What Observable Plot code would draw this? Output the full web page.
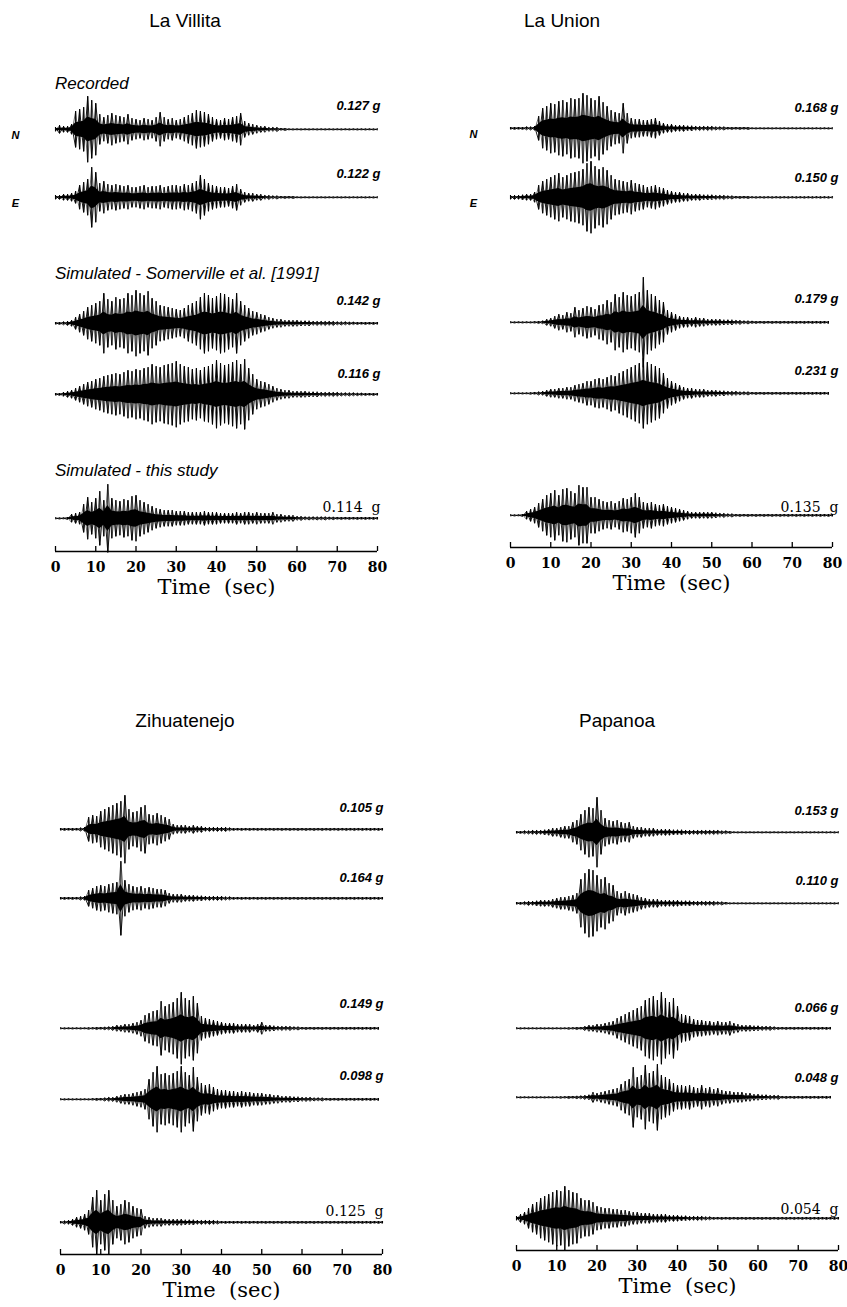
<!DOCTYPE html>
<html><head><meta charset="utf-8">
<script src="https://cdn.jsdelivr.net/npm/d3@7"></script>
<script src="https://cdn.jsdelivr.net/npm/@observablehq/plot@0.6"></script>
<style>
body{margin:0;background:#fff;}
#fig{position:relative;width:847px;height:1307px;overflow:hidden;font-family:"Liberation Sans",Arial,sans-serif;color:#000;}
.abs{position:absolute;white-space:pre;line-height:1;}
.title{font-size:19px;transform:translate(-50%,-50%);}
.group{font-style:italic;font-size:17px;transform:translateY(-50%);}
</style></head><body><div id="fig"></div>
<script>
// ---------------- data ----------------
const stations = ["La Villita", "La Union", "Zihuatenejo", "Papanoa"];
const groupLabels = ["Recorded", "Simulated - Somerville et al. [1991]", "Simulated - this study"];
const components = ["N", "E"];
const timeTicks = [0, 10, 20, 30, 40, 50, 60, 70, 80];
const xLabel = "Time\u00a0\u00a0(sec)";

const laVillitaPeaks = ["0.127 g", "0.122 g", "0.142 g", "0.116 g", "0.114\u00a0\u00a0g"];
const laUnionPeaks = ["0.168 g", "0.150 g", "0.179 g", "0.231 g", "0.135\u00a0\u00a0g"];
const zihuaPeaks = ["0.105 g", "0.164 g", "0.149 g", "0.098 g", "0.125\u00a0\u00a0g"];
const papanoaPeaks = ["0.153 g", "0.110 g", "0.066 g", "0.048 g", "0.054\u00a0\u00a0g"];

// envelope amplitude of each trace, one value per second from t = 0
const laVillitaN = [2,4,3,3,5,18,20,22,33,29, 26,15,12,14,16,14,13,12,15,11, 10,9,11,10,9,12,17,12,10,11, 9,10,12,14,16,19,18,17,15,12, 10,9,11,10,12,13,16,8,6,5, 4,3,3,2,2,2,1,1,.5,.5, .5,.5,.5,.5,.5,.5,.5,.5,.5,.5, .5,.5,.5,.5,.5,.5,.5,.5,.5,.5,.5];
const laVillitaE = [2,2,3,3,4,6,12,15,18,30, 25,14,16,13,12,13,12,11,12,10, 10,11,12,10,11,11,12,10,11,12, 12,11,13,12,14,16,22,18,14,12, 11,10,10,9,11,13,8,5,4,4, 3,3,2,2,1.5,1.5,1,1,1,1, .5,.5,.5,.5,.5,.5,.5,.5,.5,.5, .5,.5,.5,.5,.5,.5,.5,.5,.5,.5,.5];
const laVillitaSom1 = [1,1,1.5,2,3,6,9,12,16,18, 20,22,30,24,22,26,24,25,30,28, 33,30,28,32,25,22,18,17,16,15, 14,13,15,18,20,22,26,30,28,25, 27,30,29,26,24,30,22,18,15,12, 11,9,8,6,5,4,4,3,3,3, 3,2.5,2.5,2.5,2,2,2,2,2,2, 1.5,1.5,1.5,1.2,1.2,1,1,1,1,1,1];
const laVillitaSom2 = [1,1,2,3,4,6,8,10,12,13, 15,16,18,19,20,21,20,22,24,23, 25,24,26,27,30,28,27,29,30,31, 33,30,28,27,25,26,24,27,28,30, 34,31,29,30,32,34,30,35,26,20, 15,13,12,10,8,6,5,4,4,3, 3,3,3,2.5,2.5,2.5,2,2,2,2, 2,1.5,1.5,1.5,1.5,1.2,1.2,1,1,1,1];
const laVillitaStudy = [.5,.5,.5,1,4,5,6,14,21,16, 20,27,18,34,20,18,17,19,18,22, 23,18,16,14,12,10,9,8,8,8, 7,7,7,6,6,6,6,7,6,6, 6,5,5,5,5,6,5,6,6,5, 6,5,5,5,6,4,4,3,3,3, 2,2,1.5,1.5,1.5,1.5,1.5,1.5,1.2,1.2, 1,1,1,1,1,1,1,1,1,1,1];

const laUnionN = [1,1,1,1,1.5,1.5,2,12,20,22, 25,24,27,28,26,30,29,30,35,33, 30,28,32,26,22,18,16,15,25,15, 10,9,9,8,8,9,10,7,5,4, 4,3,3,3,2.5,2.5,2,2,2,2, 2,1.5,1.5,1.5,1,1,1,1,1,1, .5,.5,.5,.5,.5,.5,.5,.5,.5,.5, .5,.5,.5,.5,.5,.5,.5,.5,.5,.5,.5];
const laUnionE = [2,2,2,2.5,3,3,5,12,16,18, 20,22,24,20,22,24,25,26,28,34, 36,31,28,30,27,22,18,17,16,15, 17,14,13,12,10,11,12,10,9,7, 6,5,5,4,4,3,3,3,2.5,2.5, 2.5,2,2,2,1.5,1.5,1,1,1,1, .7,.7,.7,.7,.7,.7,.7,.7,.7,.7, .7,.7,.7,.7,.7,.7,.7,.7,.7,.7,.7];
const laUnionSom1 = [.5,.5,.5,.5,.5,.5,.8,1,1.5,3, 4,6,8,7,10,9,15,12,14,16, 15,13,17,18,22,20,28,25,30,27, 26,28,30,45,32,28,26,22,20,12, 10,8,6,5,5,4,5,4,4,3, 3,3,3,2.5,2.5,2.5,2,2,1.5,1.5, 1.2,1,1,1,1,1,1,1,1,1, 1,1,1,1,1,1,1,1,1,1];
const laUnionSom2 = [.5,.5,.5,.5,.5,.8,1,1.5,2,3, 4,4,5,5,6,6,8,9,10,12, 12,14,15,14,16,18,17,20,22,24, 26,28,30,35,31,29,27,25,20,15, 12,10,8,6,5,5,4,4,4,3, 3,3,2.5,2.5,2,2,2,1.5,1.5,1.5, 1,1,1,1,1,1,1,1,1,1, 1,1,1,1,1,1,1,1,1,1];
const laUnionStudy = [.5,.5,.5,1,4,6,8,12,16,20, 22,25,20,26,27,24,22,30,28,28, 18,18,16,14,13,14,12,14,17,16, 18,22,18,13,12,13,11,10,11,9, 8,7,6,5,4,3,3,3,3,3, 3,2.5,2,2,1.5,1.5,1,1,1,1, 1,1,1,1,1,1,1,1,1,1, 1,1,1,1,1,1,1,1,1,1,1];

const zihuaN = [1,1,1,1,1,1.5,2,12,14,13, 18,20,22,24,26,28,34,20,17,18, 22,24,15,14,16,14,12,10,5,4, 4,4,3,4,3,3,2,2,2,2, 2,2,1.5,1,1,1,1,1,1,1, 1,1,1,1,1,1,1,1,1,1, 1,1,1,1,1,1,1,1,1,1, 1,1,1,1,1,1,1,1,1,1,1];
const zihuaE = [1,1,1,1,1,1.5,2,8,10,12, 13,12,14,15,16,37,18,14,12,11, 12,10,11,10,9,9,8,5,4,4, 4,3,3,3,2.5,2.5,2,2,2,2, 2,1.5,1.5,1,1,1,1,1,1,1, 1,1,1,1,1,1,1,1,1,1, 1,1,1,1,1,1,1,1,1,1, 1,1,1,1,1,1,1,1,1,1,1];
const zihuaSom1 = [.5,.5,.5,.5,.5,.5,.5,.8,.8,1, 1,1.2,1.5,2,3,3,4,4,5,6, 8,13,15,17,18,27,22,24,26,30, 36,30,28,32,25,12,10,9,8,7, 6,5,5,5,4,4,4,4,3,4, 6,3,3,2.5,2,2,2,2,1.5,1.5, 1,1,1,1,1,1,1,1,1,1, 1,1,1,1,1,1,1,1,1,1];
const zihuaSom2 = [.5,.5,.5,.5,.5,.5,.5,.5,.8,1, 1,1.5,2,2,3,4,5,5,6,7, 8,10,20,27,33,25,26,24,26,28, 33,27,24,32,22,16,14,15,12,10, 9,9,8,8,7,8,7,7,6,6, 6,5,5,4,4,3,3,3,2.5,2.5, 2,2,2,1.5,1.5,1.5,1,1,1,1, 1,1,1,1,1,1,1,1,1,1];
const zihuaStudy = [1,1.5,2,3,5,6,8,12,25,32, 22,28,32,22,16,18,22,20,16,14, 13,6,5,4,4,4,3,3,3,3, 3,2.5,2.5,2.5,2,2,2,2,2,1.5, 1,1,1,1,1,1,1,1,1,1, 1,1,1,1,1,1,1,1,1,1, 1,1,1,1,1,1,1,1,1,1, 1,1,1,1,1,1,1,1,1,1,1];

const papanoaN = [1,1,1.5,1.5,2,2,2,2.5,3,4, 4,5,6,6,10,12,18,22,25,24, 35,22,14,12,11,12,10,9,10,6, 5,5,4,4,4,3,3,3,3,2.5, 2.5,2.5,2,2,2,2,2,2,2,2, 2,1.5,1.5,1,.5,.5,.5,.5,.5,.5, .5,.5,.5,.5,.5,.5,.5,.5,.5,.5, .5,.5,.5,.5,.5,.5,.5,.5,.5,.5,.5];
const papanoaE = [1,1,1.5,2,2,2.5,3,3,3,4, 5,6,6,7,8,10,24,30,34,33, 28,24,26,20,18,12,10,12,10,9, 8,6,5,4,4,4,3,3,3,3, 3,2.5,2.5,2.5,2,2,2,2,2,2, 1.5,1.5,1,.5,.5,.5,.5,.5,.5,.5, .5,.5,.5,.5,.5,.5,.5,.5,.5,.5, .5,.5,.5,.5,.5,.5,.5,.5,.5,.5,.5];
const papanoaSom1 = [.5,.5,.5,.5,.5,.5,.5,.5,.5,.5, .5,.5,.5,.8,.8,1,1,2,3,3, 4,4,5,6,7,10,12,14,16,18, 20,22,28,30,32,28,36,30,26,30, 22,14,13,12,9,8,8,7,7,6, 7,6,6,7,5,4,3,3,3,2.5, 2.5,2,2,2,1.5,1,1,1,1,1, 1,1,1,1,1,1,1,1,1];
const papanoaSom2 = [.5,.5,.5,.5,.5,.5,.5,.5,.5,.5, .5,.8,.8,1,1,1.2,1.5,2,2.5,5, 4,5,6,7,8,9,13,16,18,30, 20,22,32,24,26,33,22,20,18,14, 12,12,11,12,10,9,12,9,10,8, 9,7,6,6,5,5,5,4,4,3, 3,2.5,2.5,2,2,2,1,1,1,1, 1,1,1,1,1,1,1,1,1];
const papanoaStudy = [2,4,6,10,14,16,20,22,24,26, 28,27,32,28,26,25,20,18,18,16, 12,11,10,10,9,9,8,8,7,6, 6,5,5,5,4,4,4,4,3,3, 3,2.5,2.5,2,2,2,2,1.5,1.5,1, 1,1,1,1,1,1,1,1,1,1, 1,1,1,1,1,1,1,1,1,1, 1,1,1,1,1,1,1,1,1,1,1];

// ---------------- layout (pixel placement of each panel) ----------------
const PANELS = [
  {name: stations[0], peaks: laVillitaPeaks, series: [laVillitaN, laVillitaE, laVillitaSom1, laVillitaSom2, laVillitaStudy],
   left: 0, right: 423, x0: 55, x1: 377, labRight: 380, titleX: 185, titleY: 20, compX: 15,
   base: [129, 197, 323, 394, 518], lab: [100, 168, 295, 368, 502], axisY: 551, groupY: [83, 273, 470]},
  {name: stations[1], peaks: laUnionPeaks, series: [laUnionN, laUnionE, laUnionSom1, laUnionSom2, laUnionStudy],
   left: 423, right: 847, x0: 510, x1: 832, labRight: 838, titleX: 562, titleY: 20, compX: 473,
   base: [128, 197, 322, 393, 515], lab: [102, 172, 293, 365, 502], axisY: 547, groupY: null},
  {name: stations[2], peaks: zihuaPeaks, series: [zihuaN, zihuaE, zihuaSom1, zihuaSom2, zihuaStudy],
   left: 0, right: 423, x0: 60, x1: 382, labRight: 383, titleX: 185, titleY: 720, compX: null,
   base: [829, 898, 1028, 1099, 1222], lab: [802, 872, 998, 1070, 1206], axisY: 1254, groupY: null},
  {name: stations[3], peaks: papanoaPeaks, series: [papanoaN, papanoaE, papanoaSom1, papanoaSom2, papanoaStudy],
   left: 423, right: 847, x0: 516, x1: 838, labRight: 838, titleX: 617, titleY: 720, compX: null,
   base: [832, 903, 1028, 1097, 1218], lab: [805, 875, 1002, 1072, 1204], axisY: 1250, groupY: null}
];
const CORE = 0.38; // share of the envelope drawn as the dense black core of the trace

const SANS = "Liberation Sans, Arial, Helvetica, sans-serif";
const SERIF = "DejaVu Serif, Liberation Serif, serif";
const fig = document.getElementById("fig");

function addDiv(cls, text, left, top) {
  const d = document.createElement("div");
  d.className = "abs " + cls;
  d.textContent = text;
  d.style.left = left + "px";
  d.style.top = top + "px";
  fig.appendChild(d);
}

PANELS.forEach(p => {
  addDiv("title", p.name, p.titleX, p.titleY);
  if (p.groupY) groupLabels.forEach((g, j) => addDiv("group", g, p.x0, p.groupY[j]));

  p.series.forEach((vals, i) => {
    const last = i === p.series.length - 1;
    const above = 50;
    const below = last ? p.axisY - p.base[i] : 50;
    const mb = last ? 60 : 0;
    const top = p.base[i] - above;
    const pts = vals.map((a, k) => ({t: k, a, v: k % 2 ? -a : a}));
    const marks = [
      Plot.areaY(pts, {x: "t", y1: d => -d.a * CORE, y2: d => d.a * CORE, fill: "#000", curve: "linear"}),
      Plot.ruleX(pts, {x: "t", y1: d => -d.a, y2: "a", stroke: "#000", strokeWidth: 1.1}),
      Plot.line(pts, {x: "t", y: "v", stroke: "#000", strokeWidth: 0.9}),
      Plot.line(pts, {x: "t", y: d => -d.v, stroke: "#000", strokeWidth: 0.6}),
      Plot.text([p.peaks[i]], {text: d => d, frameAnchor: "top-right", dx: p.labRight - p.x1, dy: p.lab[i] - top,
        textAnchor: "end", fill: "#000",
        fontFamily: last ? SERIF : SANS, fontSize: last ? 14 : 13, fontStyle: last ? "normal" : "italic", fontWeight: last ? "normal" : "bold"})
    ];
    if (p.compX != null && i < 2) {
      marks.push(Plot.text([components[i]], {text: d => d, frameAnchor: "top-left", dx: p.compX - p.x0, dy: above + 2,
        textAnchor: "middle", fill: "#000", fontFamily: SANS, fontSize: 11, fontStyle: "italic", fontWeight: "bold"}));
    }
    if (last) {
      marks.push(
        Plot.ruleY([-below], {stroke: "#000", strokeWidth: 1.3}),
        Plot.axisX({ticks: timeTicks, tickSize: -5, tickPadding: 16, tickFormat: d => String(d), label: null,
          fontFamily: SERIF, fontWeight: "bold", fontSize: 14, strokeWidth: 1.3, color: "#000"}),
        Plot.text([xLabel], {text: d => d, frameAnchor: "bottom", dy: 42, fill: "#000", fontFamily: SERIF, fontSize: 21})
      );
    }
    const svg = Plot.plot({
      width: p.right - p.left,
      height: above + below + mb,
      marginLeft: p.x0 - p.left,
      marginRight: p.right - p.x1,
      marginTop: 0,
      marginBottom: mb,
      x: last ? {domain: [0, 80]} : {domain: [0, 80], axis: null},
      y: {domain: [-below, above], axis: null},
      style: {background: "transparent", overflow: "visible", color: "#000"},
      marks
    });
    svg.style.position = "absolute";
    svg.style.left = p.left + "px";
    svg.style.top = top + "px";
    fig.appendChild(svg);
  });
});
</script>
</body></html>
